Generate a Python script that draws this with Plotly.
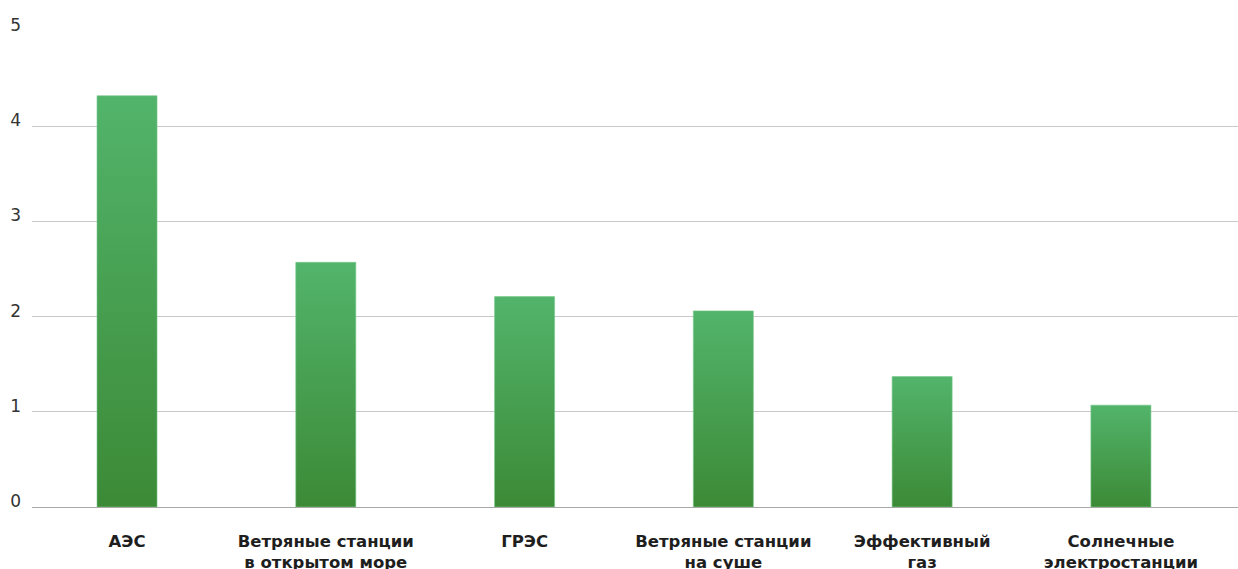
import plotly.graph_objects as go

# Categories and values
categories = [
    "АЭС",
    "Ветряные станции<br>в открытом море",
    "ГРЭС",
    "Ветряные станции<br>на суше",
    "Эффективный<br>газ",
    "Солнечные<br>электростанции",
]
values = [4.32, 2.57, 2.21, 2.06, 1.37, 1.07]
y_ticks = [0, 1, 2, 3, 4, 5]

BAR_HALF = 0.151
LIGHT = "#52b46b"
DARK = "#3c8a36"

fig = go.Figure()

for i, v in enumerate(values):
    fig.add_trace(go.Scatter(
        x=[i - BAR_HALF, i + BAR_HALF, i + BAR_HALF, i - BAR_HALF, i - BAR_HALF],
        y=[0, 0, v, v, 0],
        mode="lines",
        fill="toself",
        fillgradient=dict(type="vertical",
                          colorscale=[[0, DARK], [1, LIGHT]]),
        line=dict(color="rgba(120,200,140,0.6)", width=1),
        hoverinfo="skip",
        showlegend=False,
    ))

fig.update_layout(
    width=1238, height=569,
    margin=dict(l=32, r=0, t=31, b=62),
    plot_bgcolor="white", paper_bgcolor="white",
    font=dict(family="DejaVu Sans, sans-serif", color="#222"),
    xaxis=dict(
        range=[-0.478, 5.589],
        tickmode="array",
        tickvals=list(range(len(categories))),
        ticktext=["<b>%s</b>" % c for c in categories],
        showgrid=False, zeroline=False, showline=False,
        ticks="", ticklabelstandoff=22,
        tickfont=dict(size=16.5, color="#1e1e1e"),
        automargin=False,
        fixedrange=True,
    ),
    yaxis=dict(
        range=[0, 5],
        tickvals=y_ticks,
        showgrid=True, gridcolor="#c9c9c9", gridwidth=1,
        zeroline=True, zerolinecolor="#a8a8a8", zerolinewidth=1,
        showline=False, ticks="",
        ticklabelposition="outside top",
        ticklabelstandoff=10,
        ticklabelshift=6,
        tickfont=dict(size=17, color="#333"),
        automargin=False,
        fixedrange=True,
    ),
)

fig.write_html("out.html")
